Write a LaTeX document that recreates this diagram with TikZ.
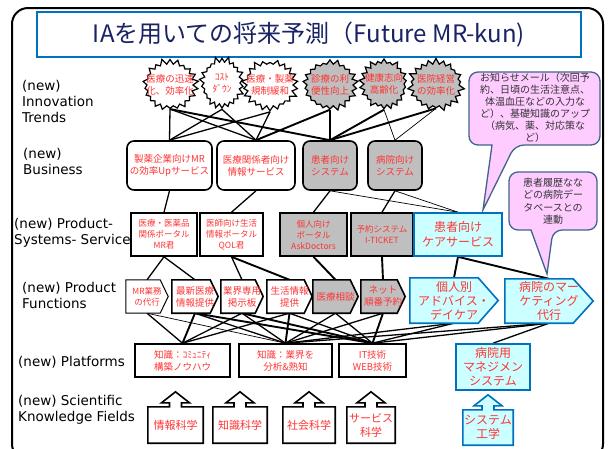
\documentclass[tikz,border=0pt]{standalone}
\usepackage{fontspec}
\setmainfont{DejaVu Sans}
\newfontfamily\jp{Noto Sans CJK JP}
\usetikzlibrary{shapes.symbols,calc}
\pgfdeclarelayer{bgwhite}
\pgfdeclarelayer{edges}
\pgfdeclarelayer{shapes}
\pgfsetlayers{bgwhite,edges,shapes,main}
\definecolor{jred}{RGB}{255,51,51}
\definecolor{navy}{RGB}{25,35,100}
\definecolor{tblue}{RGB}{0,112,192}
\definecolor{cyanfill}{RGB}{204,255,255}
\definecolor{grayfill}{RGB}{191,191,191}
\definecolor{pinkfill}{RGB}{255,204,255}
\definecolor{pinkline}{RGB}{65,100,140}
\definecolor{calltext}{RGB}{50,50,50}
\tikzset{
  lbl/.style={anchor=west, align=left, inner sep=0pt, font=\fontsize{13.5}{16}\selectfont},
  cloudw/.style={starburst, starburst points=22, starburst point height=6pt, random starburst=11,
     draw, line width=1.2pt, fill=white, inner sep=0pt, minimum width=58pt, minimum height=54pt},
  cloudg/.style={cloudw, fill=grayfill},
  ctext/.style={text=jred, align=center, inner sep=0pt, font=\jp\fontsize{9.5}{11.5}\selectfont},
  bizw/.style={draw, line width=1.6pt, rounded corners=7pt, fill=white, text=jred, align=center,
     font=\jp\fontsize{9.5}{12}\selectfont, inner sep=0pt, minimum height=49pt},
  bizg/.style={bizw, fill=grayfill},
  pssw/.style={draw, line width=1.6pt, fill=white, text=jred, align=center,
     font=\jp\fontsize{8.5}{11}\selectfont, inner sep=0pt, minimum height=43pt},
  pssg/.style={pssw, fill=grayfill},
  pssc/.style={pssw, draw=tblue, fill=cyanfill, font=\jp\fontsize{12}{15}\selectfont},
  fn/.style={text=jred, align=center, inner sep=0pt, font=\jp\fontsize{9.5}{12}\selectfont, minimum height=33pt},
  fnbig/.style={fn, font=\jp\fontsize{12}{14}\selectfont, minimum height=45pt},
  fshw/.style={draw, line width=1.6pt, fill=white},
  fshg/.style={fshw, fill=grayfill},
  fshc/.style={draw=tblue, line width=1.6pt, fill=cyanfill},
  platw/.style={draw, line width=1.6pt, fill=white, text=jred, align=center,
     font=\jp\fontsize{9.5}{12}\selectfont, inner sep=0pt, minimum height=33pt},
  platc/.style={platw, draw=tblue, fill=cyanfill, font=\jp\fontsize{12}{14}\selectfont, minimum height=46pt},
  kn/.style={text=jred, align=center, inner sep=0pt, font=\jp\fontsize{11}{14}\selectfont, minimum height=36pt},
  knc/.style={kn, font=\jp\fontsize{12}{14}\selectfont, minimum height=35pt},
  kshw/.style={draw, line width=1.6pt, fill=white},
  kshc/.style={draw=tblue, line width=1.6pt, fill=cyanfill},
  callout/.style={draw=pinkline, line width=1.3pt, fill=pinkfill},
  ctxt/.style={text=calltext, align=center, inner sep=0pt, font=\jp\fontsize{10}{12}\selectfont},
  en/.style={line width=1.3pt},
  et/.style={line width=1.9pt},
  eh/.style={line width=0.7pt}
}
\newcommand\mysig[3]{%
  \begin{pgfonlayer}{shapes}
  \draw[#3] (#1.north west) -- ($(#1.north east)+(-#2,0)$) -- (#1.east) -- ($(#1.south east)+(-#2,0)$) -- (#1.south west) -- cycle;
  \end{pgfonlayer}}
\newcommand\myarrowbox[2]{%
  \begin{pgfonlayer}{shapes}
  \draw[#2] (#1.north west) -- ($(#1.north)+(-6,0)$) -- ++(0,-4) -- ++(-8,0) -- ($(#1.north)+(0,-15)$)
    -- ($(#1.north)+(14,-4)$) -- ++(-8,0) -- ($(#1.north)+(6,0)$) -- (#1.north east) -- (#1.south east)
    -- (#1.south west) -- cycle;
  \end{pgfonlayer}}
\begin{document}
\begin{tikzpicture}[x=1pt,y=-1pt]
\useasboundingbox (0,0) rectangle (608,448);
\begin{pgfonlayer}{bgwhite}
\fill[white] (0,0) rectangle (608,448);
\end{pgfonlayer}
% frame
\draw[line width=2pt, rounded corners=16pt] (12,8) rectangle (603,460);
% title
\node[draw=tblue, line width=1.8pt, fill=white, minimum width=544pt, minimum height=45pt, inner sep=0pt,
  text=navy, font=\jp\fontsize{24}{28}\selectfont] (title) at (309,34.5) {IAを用いての将来予測（Future MR-kun)};
% row labels
\node[lbl] (l1) at (22,101) {(new)\\Innovation\\Trends};
\node[lbl] (l2) at (23,161) {(new)\\Business};
\node[lbl] (l3) at (14,233) {(new) Product-\\Systems- Service};
\node[lbl] (l4) at (22,295) {(new) Product\\Functions};
\node[lbl] (l5) at (18,362) {(new) Platforms};
\node[lbl] (l6) at (18,410) {(new) Scientific\\Knowledge Fields};
% clouds
\node[cloudw] (c1) at (170,85) {};
\node[cloudw, minimum width=48pt, random starburst=5] (c2) at (222,83) {};
\node[cloudw, random starburst=23] (c3) at (270,85) {};
\node[cloudg, random starburst=31] (c4) at (330,85) {};
\node[cloudg, minimum width=52pt, random starburst=41] (c5) at (384,84) {};
\node[cloudg, random starburst=53] (c6) at (436,85) {};
\node[ctext] (c1t) at (c1) {医療の迅速\\化、効率化};
\node[ctext] (c2t) at (c2) {ｺｽﾄ\\ﾀﾞｳﾝ};
\node[ctext] (c3t) at (c3) {医療・製薬\\規制緩和};
\node[ctext] (c4t) at (c4) {診療の利\\便性向上};
\node[ctext] (c5t) at (c5) {健康志向\\高齢化};
\node[ctext] (c6t) at (c6) {医院経営\\の効率化};
% business
\node[bizw, minimum width=85pt] (b1) at (169.5,165.5) {製薬企業向けMR\\の効率Upサービス};
\node[bizw, minimum width=78pt] (b2) at (256,165.5) {医療関係者向け\\情報サービス};
\node[bizg, minimum width=54pt] (b3) at (330,165.5) {患者向け\\システム};
\node[bizg, minimum width=54pt] (b4) at (395,165.5) {病院向け\\システム};
% product-systems-service
\node[pssw, minimum width=66pt] (p1) at (164,234.5) {医療・医薬品\\関係ポータル\\MR君};
\node[pssw, minimum width=63pt] (p2) at (231.5,234.5) {医師向け生活\\情報ポータル\\QOL君};
\node[pssg, minimum width=67pt] (p3) at (313.5,234.5) {個人向け\\ポータル\\AskDoctors};
\node[pssg, minimum width=62pt] (p4) at (382,234.5) {予約システム\\I-TICKET};
\node[pssc, minimum width=88pt] (p5) at (458,234.5) {患者向け\\ケアサービス};
% functions
\node[fn, minimum width=42pt, font=\jp\fontsize{8.5}{11}\selectfont] (f1) at (147,296.5) {MR業務\\の代行};
\node[fn, minimum width=46pt] (f2) at (195,296.5) {最新医療\\情報提供};
\node[fn, minimum width=42pt] (f3) at (242,296.5) {業界専用\\掲示板};
\node[fn, minimum width=45pt] (f4) at (289.5,296.5) {生活情報\\提供};
\node[fn, minimum width=45pt] (f5) at (335.5,296.5) {医療相談};
\node[fn, minimum width=44pt] (f6) at (383,296.5) {ネット\\順番予約};
\node[fnbig, minimum width=88pt] (f7) at (454,300.5) {個人別\\アドバイス・\\デイケア};
\node[fnbig, minimum width=88pt, minimum height=44pt] (f8) at (549,301) {病院のマー\\ケティング\\代行};
\mysig{f1}{8}{fshw, line width=1pt}
\mysig{f2}{8}{fshw}
\mysig{f3}{8}{fshw}
\mysig{f4}{8}{fshw}
\mysig{f5}{8}{fshg}
\mysig{f6}{8}{fshg}
\mysig{f7}{20}{fshc}
\mysig{f8}{20}{fshc}
% platforms
\node[platw, minimum width=95pt] (L1) at (182.5,360.5) {知識：ｺﾐｭﾆﾃｨ\\構築ノウハウ};
\node[platw, minimum width=93pt] (L2) at (285.5,360.5) {知識：業界を\\分析\&熟知};
\node[platw, minimum width=67pt] (L3) at (372.5,360.5) {IT技術\\WEB技術};
\node[platc, minimum width=74pt] (L4) at (493,367) {病院用\\マネジメン\\システム};
% knowledge fields
\node[kn, minimum width=55pt] (k1) at (175.5,425) {情報科学};
\node[kn, minimum width=54pt] (k2) at (240,425) {知識科学};
\node[kn, minimum width=52pt] (k3) at (309,425) {社会科学};
\node[kn, minimum width=48pt] (k4) at (371,425) {サービス\\科学};
\node[knc, minimum width=50pt] (k5) at (488,427.5) {システム\\工学};
\myarrowbox{k1}{kshw}
\myarrowbox{k2}{kshw}
\myarrowbox{k3}{kshw}
\myarrowbox{k4}{kshw}
\myarrowbox{k5}{kshc}
% callouts
\begin{pgfonlayer}{shapes}
\draw[callout, rounded corners=9pt] (469,72) -- (600,72) -- (600,145) -- (515,145) [sharp corners] -- (483,210) -- (492,145) [rounded corners=9pt] -- (469,145) -- cycle;
\draw[callout, rounded corners=9pt] (509,172) -- (597,172) -- (597,230) -- (553,230) [sharp corners] -- (547,274) -- (531,230) [rounded corners=9pt] -- (509,230) -- cycle;
\end{pgfonlayer}
\node[ctxt] (ca) at (535,108) {お知らせメール（次回予\\約、日頃の生活注意点、\\体温血圧などの入力な\\ど）、基礎知識のアップ\\（病気、薬、対応策な\\ど）};
\node[ctxt, font=\jp\fontsize{10}{12.5}\selectfont] (cb) at (553,201) {患者履歴なな\\どの病院デー\\タベースとの\\連動};
% connectors
\begin{pgfonlayer}{edges}
\foreach \a/\b/\s in {c1/b1/en, c2/b1/en, c3/b1/en, c1/b2/en, c2/b2/en, c3/b2/en, c4/b2/et,
   c1/b3/et, c4/b3/et, c5/b3/et, c6/b3/et, c5/b4/eh, c6/b4/eh,
   b1/p1/en, b2/p2/en, b3/p3/en, b3/p5/eh, b4/p4/en, b4/p5/eh,
   p1/f1/en, p1/f2/en, p2/f3/en, p2/f4/et, p3/f5/et, p4/f6/et, p5/f7/et, p5/f8/et,
   f1/L1/en, f1/L2/eh, f2/L1/et, f2/L2/en, f2/L3/et, f3/L1/en, f3/L2/en, f3/L3/et,
   f4/L1/en, f4/L2/et, f4/L3/en, f5/L2/en, f5/L3/en, f6/L2/en, f6/L3/et,
   f7/L2/en, f7/L3/en, f8/L2/en, f8/L3/en, f8/L4/en}
  \draw[\s] (\a.south) -- (\b.north);
\end{pgfonlayer}
\end{tikzpicture}
\end{document}
